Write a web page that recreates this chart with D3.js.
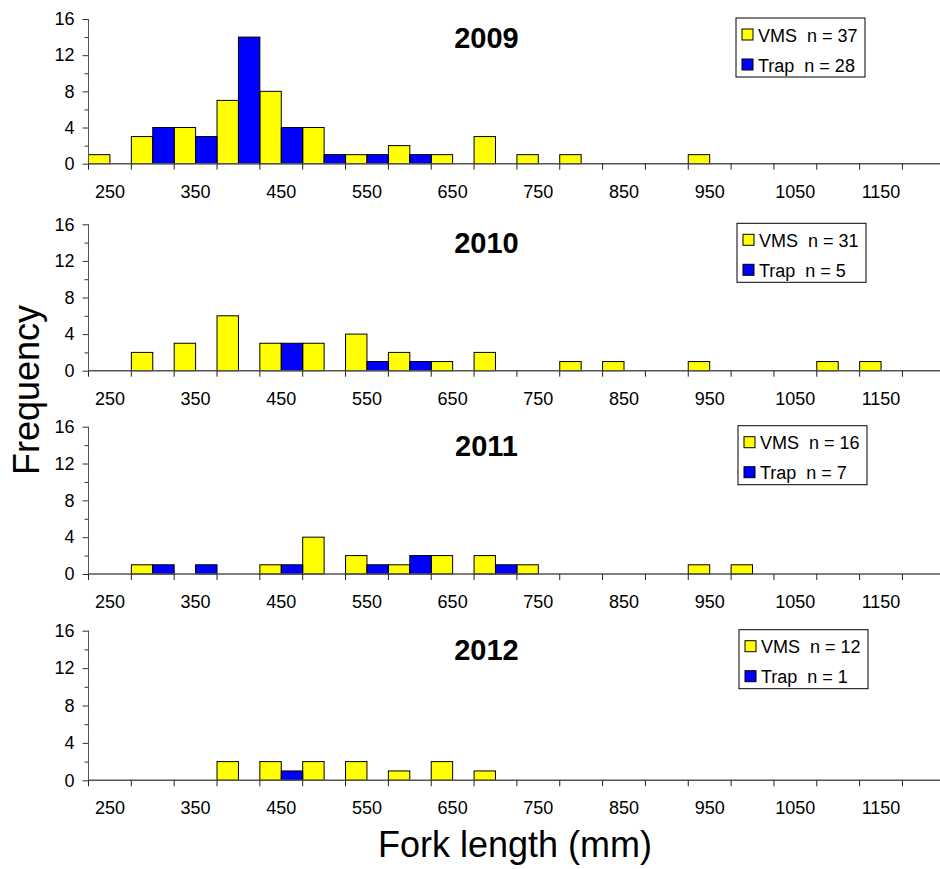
<!DOCTYPE html>
<html>
<head>
<meta charset="utf-8">
<script src="https://cdn.jsdelivr.net/npm/d3@7"></script>
<style>
  body { margin: 0; background: #fff; }
  svg { display: block; font-family: Arial, "Liberation Sans", sans-serif; }
</style>
</head>
<body>
<div id="chart"></div>
<script>
// bins of fork length (mm), one VMS and one Trap bar per bin
const bins = [250, 300, 350, 400, 450, 500, 550, 600, 650, 700,
              750, 800, 850, 900, 950, 1000, 1050, 1100, 1150, 1200];
const labelBins = [250, 350, 450, 550, 650, 750, 850, 950, 1050, 1150];
const years = ['2009', '2010', '2011', '2012'];
const series = ['VMS', 'Trap'];

const vms2009  = [1, 3, 4, 7, 8, 4, 1, 2, 1, 3, 1, 1, 0, 0, 1, 0, 0, 0, 0, 0];
const trap2009 = [0, 4, 3, 14, 4, 1, 1, 1, 0, 0, 0, 0, 0, 0, 0, 0, 0, 0, 0, 0];
const vms2010  = [0, 2, 3, 6, 3, 3, 4, 2, 1, 2, 0, 1, 1, 0, 1, 0, 0, 1, 1, 0];
const trap2010 = [0, 0, 0, 0, 3, 0, 1, 1, 0, 0, 0, 0, 0, 0, 0, 0, 0, 0, 0, 0];
const vms2011  = [0, 1, 0, 0, 1, 4, 2, 1, 2, 2, 1, 0, 0, 0, 1, 1, 0, 0, 0, 0];
const trap2011 = [0, 1, 1, 0, 1, 0, 1, 2, 0, 1, 0, 0, 0, 0, 0, 0, 0, 0, 0, 0];
const vms2012  = [0, 0, 0, 2, 2, 2, 2, 1, 2, 1, 0, 0, 0, 0, 0, 0, 0, 0, 0, 0];
const trap2012 = [0, 0, 0, 0, 1, 0, 0, 0, 0, 0, 0, 0, 0, 0, 0, 0, 0, 0, 0, 0];

const vmsByYear = [vms2009, vms2010, vms2011, vms2012];
const trapByYear = [trap2009, trap2010, trap2011, trap2012];
const vmsN = [37, 31, 16, 12];
const trapN = [28, 5, 7, 1];

const yTicks = [0, 4, 8, 12, 16];
const yMinor = [2, 6, 10, 14];

const colors = { VMS: '#FFFF00', Trap: '#0000FF' };

const W = 940, H = 869;
const xLeft = 88.5, xRight = 945.3;
// panel top (y=16) and bottom (y=0) in pixels
const panels = [[19, 163.7], [224.3, 370.7], [426.7, 574], [630.7, 780.3]];

const svg = d3.select('#chart').append('svg')
  .attr('width', W)
  .attr('height', H);

const x = d3.scaleBand()
  .domain(bins)
  .range([xLeft, xRight])
  .padding(0);

const xs = d3.scaleBand()
  .domain(series)
  .range([0, x.bandwidth()])
  .padding(0);

years.forEach((yr, i) => {
  const [top, bottom] = panels[i];
  const y = d3.scaleLinear().domain([0, 16]).range([bottom, top]);
  const g = svg.append('g');

  const rows = bins.map((b, j) => ({bin: b, VMS: vmsByYear[i][j], Trap: trapByYear[i][j]}));

  // bars
  series.forEach(s => {
    g.append('g')
      .selectAll('rect')
      .data(rows.filter(d => d[s] > 0))
      .enter()
      .append('rect')
      .attr('x', d => x(d.bin) + xs(s))
      .attr('y', d => y(d[s]))
      .attr('width', xs.bandwidth())
      .attr('height', d => y(0) - y(d[s]))
      .style('fill', colors[s])
      .style('stroke', '#000')
      .style('stroke-width', 1);
  });

  // y axis
  const yAxis = g.append('g')
    .attr('transform', `translate(${xLeft},0)`)
    .call(d3.axisLeft(y).tickValues(yTicks).tickSize(6).tickPadding(8));
  yAxis.selectAll('text').style('font-size', '18px').style('fill', '#000');
  yAxis.selectAll('line').style('stroke', '#333');
  yAxis.select('.domain').style('stroke', '#555').attr('d', `M-0,${bottom}V${top}`);

  g.append('g')
    .attr('transform', `translate(${xLeft},0)`)
    .call(d3.axisLeft(y).tickValues(yMinor).tickSize(4).tickFormat(''))
    .call(a => a.select('.domain').remove())
    .selectAll('line').style('stroke', '#333');

  // x axis line and boundary ticks
  g.append('line')
    .attr('x1', xLeft).attr('x2', xRight)
    .attr('y1', y(0)).attr('y2', y(0))
    .style('stroke', '#555')
    .style('stroke-width', 1.5);

  g.append('g')
    .selectAll('line')
    .data(bins)
    .enter()
    .append('line')
    .attr('x1', d => x(d)).attr('x2', d => x(d))
    .attr('y1', y(0)).attr('y2', y(0) + 6)
    .style('stroke', '#222');

  g.append('g')
    .selectAll('text')
    .data(labelBins)
    .enter()
    .append('text')
    .attr('x', d => x(d) + x.bandwidth() / 2)
    .attr('y', y(0) + 34)
    .attr('text-anchor', 'middle')
    .style('font-size', '18px')
    .text(d => d);

  // panel title
  g.append('text')
    .attr('x', 486.5)
    .attr('y', top + 29)
    .attr('text-anchor', 'middle')
    .style('font-size', '29px')
    .style('font-weight', 'bold')
    .text(yr);

  // legend
  const lg = g.append('g').attr('transform', `translate(${736 + i},${top - 1})`);
  lg.append('rect')
    .attr('width', 129).attr('height', 59)
    .style('fill', '#fff').style('stroke', '#000');
  const items = [
    {name: 'VMS', label: `VMS  n = ${vmsN[i]}`},
    {name: 'Trap', label: `Trap  n = ${trapN[i]}`}
  ];
  items.forEach((it, k) => {
    lg.append('rect')
      .attr('x', 6).attr('y', 11 + k * 30)
      .attr('width', 11).attr('height', 11)
      .style('fill', colors[it.name]).style('stroke', '#000');
    lg.append('text')
      .attr('x', 22).attr('y', 23.5 + k * 30)
      .style('font-size', '18px')
      .style('white-space', 'pre')
      .text(it.label);
  });
});

// axis titles
svg.append('text')
  .attr('transform', 'translate(39,390) rotate(-90)')
  .attr('text-anchor', 'middle')
  .style('font-size', '36px')
  .text('Frequency');

svg.append('text')
  .attr('x', 515)
  .attr('y', 857)
  .attr('text-anchor', 'middle')
  .style('font-size', '36px')
  .text('Fork length (mm)');
</script>
</body>
</html>
